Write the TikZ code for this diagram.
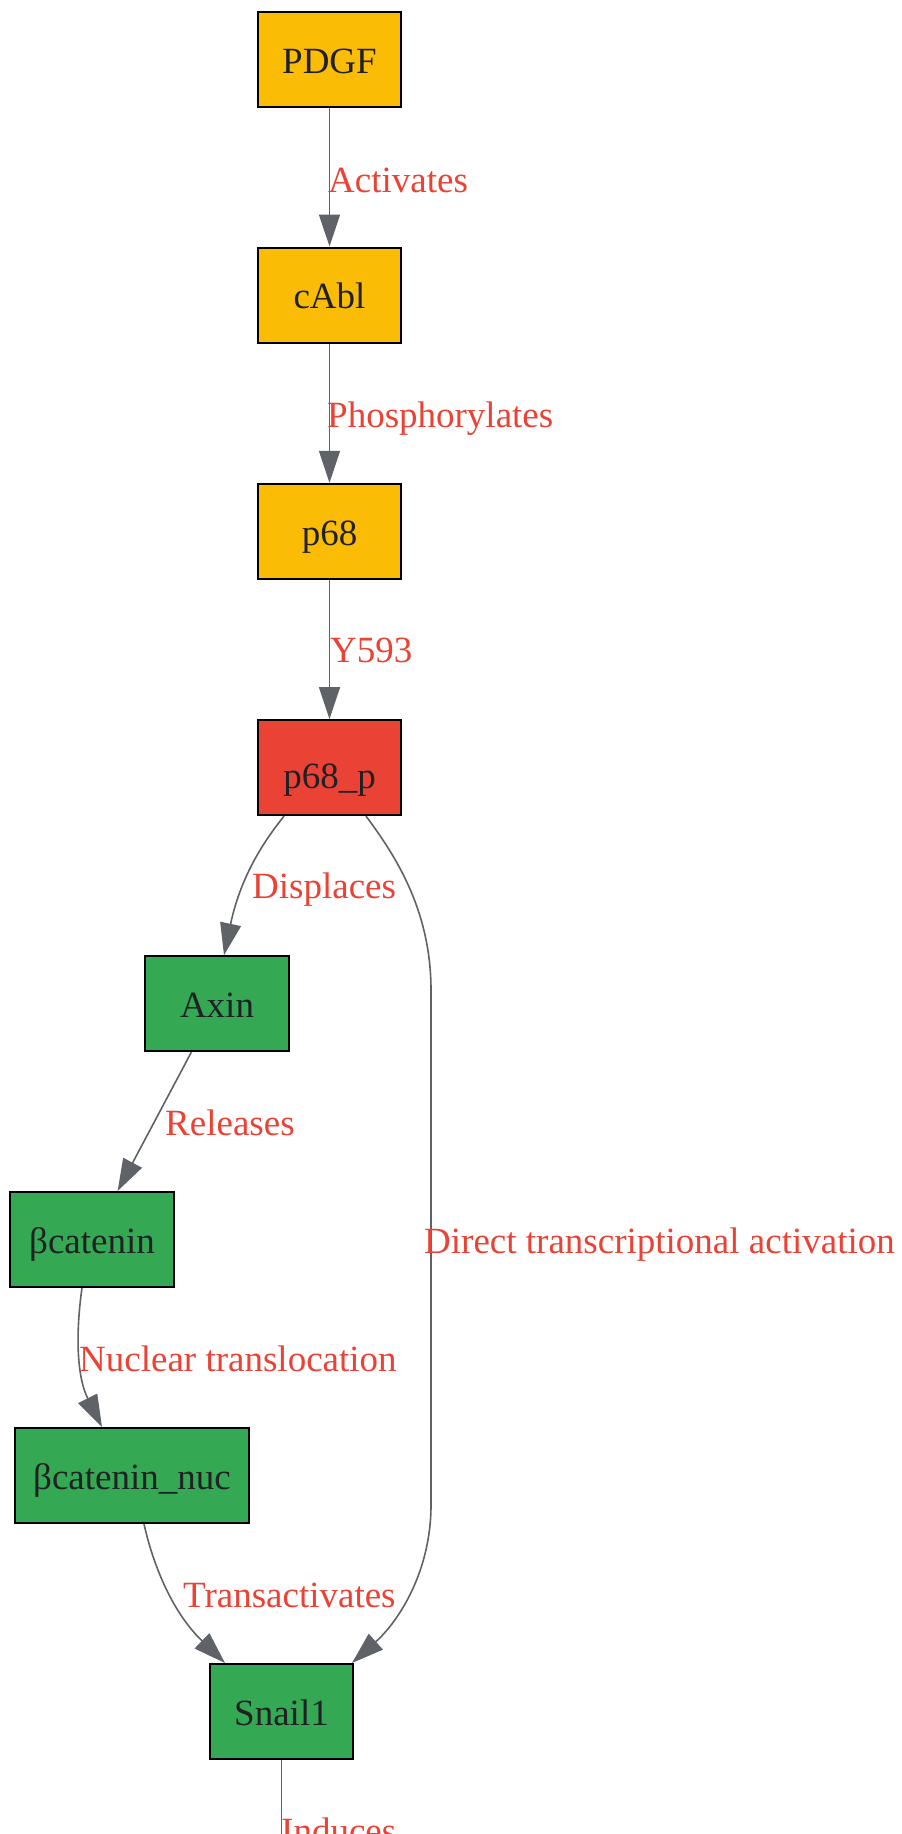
\documentclass[tikz,border=0pt]{standalone}
\usepackage{fontspec}
\setmainfont{Liberation Serif}
\usetikzlibrary{arrows.meta,calc}
\definecolor{cyel}{HTML}{FBBC05}
\definecolor{cred}{HTML}{EA4335}
\definecolor{cgrn}{HTML}{34A853}
\definecolor{cedge}{HTML}{5F6368}
\definecolor{ctext}{HTML}{202124}
\begin{document}
\begin{tikzpicture}[x=1pt,y=-1pt,
  box/.style={draw=black,line width=2pt,inner sep=0pt,minimum height=95pt,
    text height=27.4pt,text depth=0pt,text=ctext,font=\fontsize{37}{44}\selectfont},
  lbl/.style={anchor=base west,inner sep=0pt,text=cred,font=\fontsize{37}{44}\selectfont},
  edge/.style={draw=cedge,line width=1.6pt,-{Triangle[length=32pt,width=21pt]}}]
\clip (0,0) rectangle (902,1834);
\fill[white] (0,0) rectangle (902,1834);
\node[box,fill=cyel,minimum width=143pt] (PDGF) at (329.5,59.5) {PDGF};
\node[box,fill=cyel,minimum width=143pt] (cAbl) at (329.5,295) {cAbl};
\node[box,fill=cyel,minimum width=143pt] (p68) at (329.5,531.3) {p68};
\node[box,fill=cred,minimum width=143pt,text height=41.2pt] (p68p) at (329.5,767.6) {p68\_p};
\node[box,fill=cgrn,minimum width=144pt] (Axin) at (217,1003.7) {Axin};
\node[box,fill=cgrn,minimum width=164pt] (bcat) at (92,1239.5) {βcatenin};
\node[box,fill=cgrn,minimum width=234pt] (bcatnuc) at (132,1475.5) {βcatenin\_nuc};
\node[box,fill=cgrn,minimum width=143pt] (Snail) at (281.5,1711.5) {Snail1};
\coordinate (next) at (281.5,1899);

\draw[edge] (PDGF) -- (cAbl);
\draw[edge] (cAbl) -- (p68);
\draw[edge] (p68) -- (p68p);
\draw[edge] ([xshift=-45.5pt]p68p.south) .. controls (270,834) and (242,870) .. ([xshift=7pt]Axin.north);
\draw[edge] ([xshift=36.5pt]p68p.south) .. controls (395,855) and (431,910) .. (431,990)
  -- (431,1505) .. controls (431,1570) and (400,1620) .. ([xshift=70.5pt]Snail.north);
\draw[edge] (Axin) -- (bcat);
\draw[edge] ([xshift=-10pt]bcat.south) .. controls (76,1330) and (76,1375) .. ([xshift=-30pt]bcatnuc.north);
\draw[edge] ([xshift=12pt]bcatnuc.south) .. controls (152,1560) and (170,1610) .. ([xshift=-56.5pt]Snail.north);
\draw[edge] (Snail) -- (next);

\node[lbl] (l1) at (328,192) {Activates};
\node[lbl] (l2) at (327,427) {Phosphorylates};
\node[lbl] (l3) at (330,662) {Y593};
\node[lbl] (l4) at (252,898) {Displaces};
\node[lbl] (l5) at (165,1135) {Releases};
\node[lbl] (l6) at (424,1253) {Direct transcriptional activation};
\node[lbl] (l7) at (79,1371) {Nuclear translocation};
\node[lbl] (l8) at (183,1607) {Transactivates};
\node[lbl] (l9) at (281,1843) {Induces};
\end{tikzpicture}
\end{document}
